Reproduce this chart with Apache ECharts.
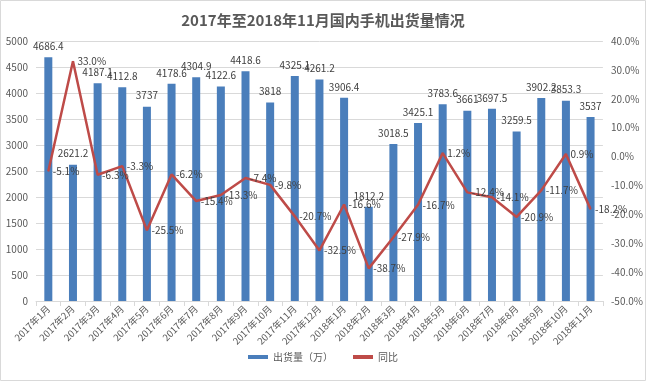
<!DOCTYPE html>
<html><head><meta charset="utf-8">
<script src="https://cdn.jsdelivr.net/npm/echarts@6/dist/echarts.min.js"></script>
<style>html,body{margin:0;padding:0;background:#fff;}#c{width:646px;height:381px;}</style>
</head><body><div id="c"></div>
<script>
const categories = ["2017年1月","2017年2月","2017年3月","2017年4月","2017年5月","2017年6月","2017年7月","2017年8月","2017年9月","2017年10月","2017年11月","2017年12月","2018年1月","2018年2月","2018年3月","2018年4月","2018年5月","2018年6月","2018年7月","2018年8月","2018年9月","2018年10月","2018年11月"];
const shipments = [4686.4,2621.2,4187.1,4112.8,3737,4178.6,4304.9,4122.6,4418.6,3818,4325.1,4261.2,3906.4,1812.2,3018.5,3425.1,3783.6,3661,3697.5,3259.5,3902.2,3853.3,3537];
const yoy = [-5.1,33.0,-6.3,-3.3,-25.5,-6.2,-15.4,-13.3,-7.4,-9.8,-20.7,-32.5,-16.6,-38.7,-27.9,-16.7,1.2,-12.4,-14.1,-20.9,-11.7,0.9,-18.2];
const leftTicks = {min:0, max:5000, interval:500};
const rightTicks = {min:-50, max:40, interval:10};

const font = '"Microsoft YaHei","Noto Sans CJK SC",sans-serif';
const chart = echarts.init(document.getElementById('c'));
chart.setOption({
  animation:false,
  textStyle:{fontFamily:font},
  title:{text:'2017年至2018年11月国内手机出货量情况',left:'center',top:8,
    textStyle:{fontSize:15,fontWeight:'bold',color:'#595959',fontFamily:font}},
  graphic:[{type:'rect',shape:{x:0.5,y:0.5,width:645,height:380},style:{fill:'none',stroke:'#d9d9d9',lineWidth:1},silent:true}],
  grid:{left:36,right:43,top:41,bottom:80},
  legend:{bottom:14,left:'center',itemGap:20,itemWidth:20,itemHeight:4,
    textStyle:{fontSize:10,color:'#595959'},
    data:[{name:'出货量（万）',icon:'rect'},{name:'同比',icon:'rect'}]},
  xAxis:{type:'category',data:categories,boundaryGap:true,
    axisLine:{lineStyle:{color:'#d9d9d9'}},
    axisTick:{show:true,lineStyle:{color:'#d9d9d9'}},
    axisLabel:{rotate:45,fontSize:9.5,color:'#595959',margin:6,interval:0}},
  yAxis:[
    {type:'value',min:leftTicks.min,max:leftTicks.max,interval:leftTicks.interval,
     axisLine:{show:false},axisTick:{show:false},
     axisLabel:{fontSize:10,color:'#595959',margin:8,formatter:v=>String(v)},
     splitLine:{lineStyle:{color:'#d9d9d9'}}},
    {type:'value',min:rightTicks.min,max:rightTicks.max,interval:rightTicks.interval,
     axisLine:{show:false},axisTick:{show:false},
     axisLabel:{fontSize:10,color:'#595959',margin:8,formatter:v=>v.toFixed(1)+'%'},
     splitLine:{show:false}}
  ],
  series:[
    {name:'出货量（万）',type:'bar',data:shipments,barWidth:8,yAxisIndex:0,
     itemStyle:{color:'#4a7ebb'},
     label:{show:true,position:'top',fontSize:10,color:'#404040',distance:6}},
    {name:'同比',type:'line',data:yoy,yAxisIndex:1,symbol:'circle',symbolSize:1,showSymbol:true,
     lineStyle:{color:'#be4b48',width:2.5},itemStyle:{color:'#be4b48'},
     labelLayout:{hideOverlap:false},
     label:{show:true,position:'right',fontSize:10,color:'#404040',distance:4,formatter:p=>p.value.toFixed(1)+'%'}}
  ]
});
</script></body></html>
